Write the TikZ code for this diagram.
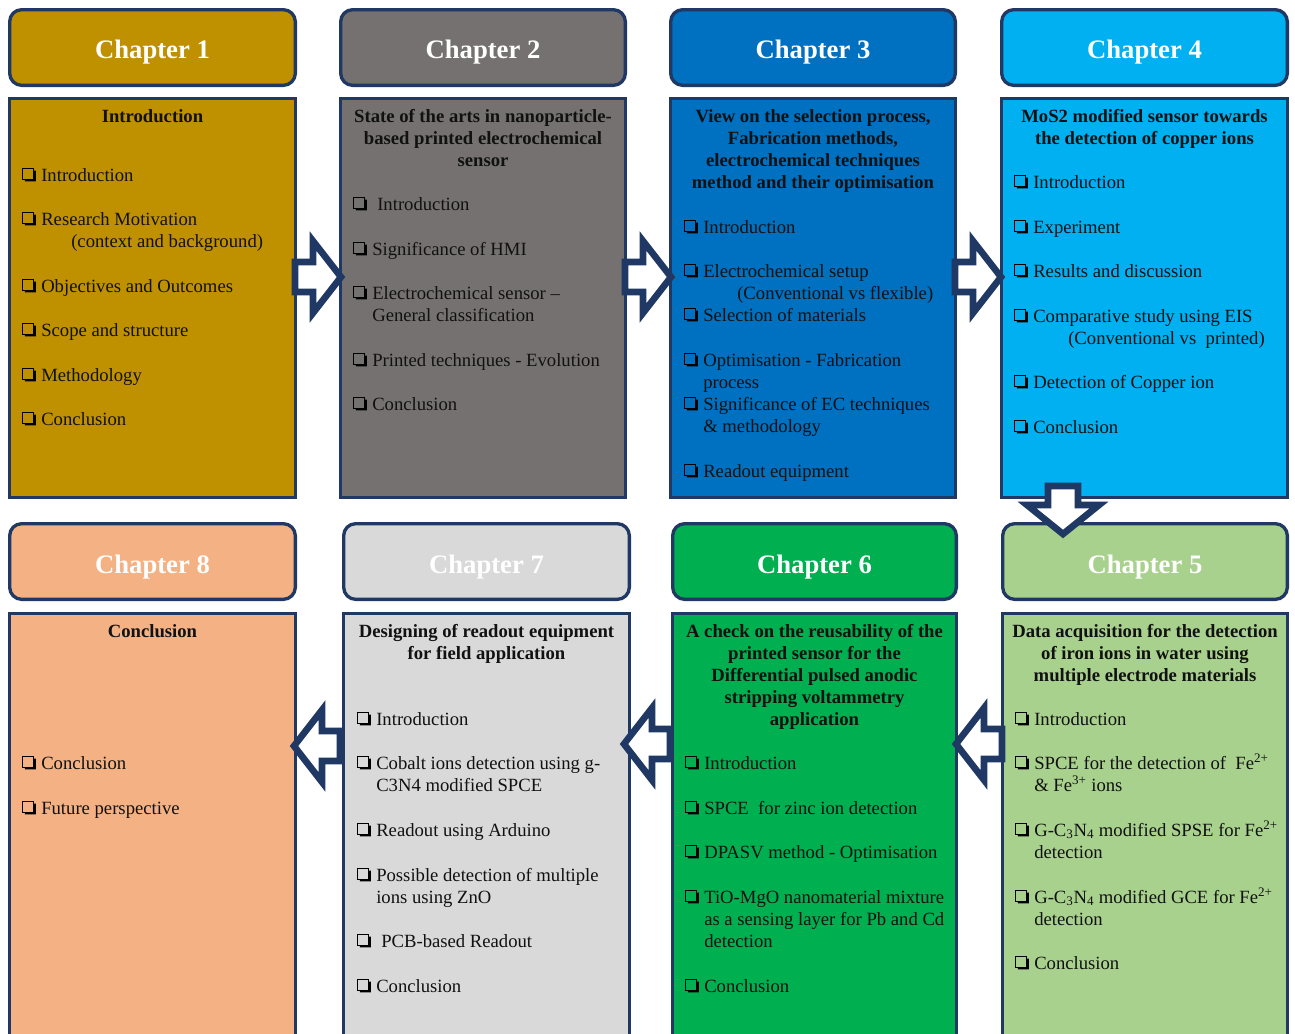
\documentclass[tikz,border=0pt]{standalone}
\usepackage{fontspec}
\setmainfont{Liberation Serif}
\definecolor{navy}{HTML}{1F3864}
\definecolor{cA}{HTML}{BF9000}
\definecolor{cB}{HTML}{767171}
\definecolor{cC}{HTML}{0070C0}
\definecolor{cD}{HTML}{00B0F0}
\definecolor{cE}{HTML}{A9D18E}
\definecolor{cF}{HTML}{00B050}
\definecolor{cG}{HTML}{D9D9D9}
\definecolor{cH}{HTML}{F4B183}
\definecolor{txt}{HTML}{111111}
\newcommand\chk{\makebox[14.25pt][l]{\tikz[x=1.15pt,y=1.15pt,baseline=0pt]{%
  \fill[black] (1.8,-0.3) -- (8.9,-0.3) -- (8.9,6.8) -- (7.4,6.8) -- (7.4,1.2) -- (1.8,1.2) -- cycle;
  \draw[black,line width=0.9pt] (0.45,1.2) rectangle (7.4,8.1);}}}
\newcommand\boxat[7]{%
  \node[#2, fill=#7, minimum width={(#5-#3)*0.75pt-2.5pt}, minimum height={(#6-#4)*0.75pt-2.5pt}] (#1) at ({(#3+#5)/2},{(#4+#6)/2}) {};}
\newcommand\itm[4]{\node[itm] (#1) at (#2,{#3+6}) {\chk #4};}
\newcommand\ml[1]{\begin{tabular}[t]{@{}l@{}}#1\end{tabular}}
\newcommand\hdg[4]{\node[hd] (#1) at (#2,{#3+6}) {\begin{tabular}[t]{@{}c@{}}#4\end{tabular}};}
\newcommand\rarr[1]{\draw[blockarr] (#1) ++(3,-15) -- ++(18,0) -- ++(0,-21) -- ++(28,36) -- ++(-28,36) -- ++(0,-21) -- ++(-18,0) -- cycle;}
\newcommand\larr[1]{\draw[blockarr] (#1) ++(-3,-15) -- ++(-18,0) -- ++(0,-21) -- ++(-28,36) -- ++(28,36) -- ++(0,-21) -- ++(18,0) -- cycle;}
\newcommand\darr[1]{\draw[blockarr] (#1) ++(-15,3) -- ++(0,19) -- ++(-21,0) -- ++(36,29) -- ++(36,-29) -- ++(-21,0) -- ++(0,-19) -- cycle;}
\tikzset{
  hdr/.style={draw=navy, line width=2.5pt, rounded corners=9pt, inner sep=0pt},
  cnt/.style={draw=navy, line width=2.5pt, inner sep=0pt},
  ttl/.style={anchor=base, text=white, font=\fontsize{20}{24}\selectfont\bfseries, inner sep=0pt},
  hd/.style={anchor=base, text=txt, font=\fontsize{14}{16.5}\selectfont\bfseries, inner sep=0pt},
  itm/.style={anchor=base west, text=txt, font=\fontsize{14}{16.5}\selectfont, inner sep=0pt},
  blockarr/.style={draw=navy, fill=white, line width=5pt, line join=miter},
}
\begin{document}
\begin{tikzpicture}[x=0.75pt, y=-0.75pt]
\useasboundingbox (0,0) rectangle (1295,1033);
\fill[white] (0,0) rectangle (1295,1033);
% headers top
\boxat{h1}{hdr}{8}{8}{297}{87}{cA}
\boxat{h2}{hdr}{339}{8}{627}{87}{cB}
\boxat{h3}{hdr}{669}{8}{957}{87}{cC}
\boxat{h4}{hdr}{1000}{8}{1289}{87}{cD}
% content top
\boxat{b1}{cnt}{8}{97}{297}{499}{cA}
\boxat{b2}{cnt}{339}{97}{627}{499}{cB}
\boxat{b3}{cnt}{669}{97}{957}{499}{cC}
\boxat{b4}{cnt}{1000}{97}{1289}{499}{cD}
% headers bottom
\boxat{h8}{hdr}{8}{522}{297}{601}{cH}
\boxat{h7}{hdr}{342}{522}{631}{601}{cG}
\boxat{h6}{hdr}{671}{522}{958}{601}{cF}
\boxat{h5}{hdr}{1001}{522}{1289}{601}{cE}
% content bottom
\boxat{b8}{cnt}{8}{612}{297}{1042}{cH}
\boxat{b7}{cnt}{342}{612}{631}{1042}{cG}
\boxat{b6}{cnt}{671}{612}{958}{1042}{cF}
\boxat{b5}{cnt}{1001}{612}{1289}{1042}{cE}
% titles
\node[ttl] (t1) at (152.5,58) {Chapter 1};
\node[ttl] (t2) at (483,58) {Chapter 2};
\node[ttl] (t3) at (813,58) {Chapter 3};
\node[ttl] (t4) at (1144.5,58) {Chapter 4};
\node[ttl] (t8) at (152.5,573) {Chapter 8};
\node[ttl] (t7) at (486.5,573) {Chapter 7};
\node[ttl] (t6) at (814.5,573) {Chapter 6};
\node[ttl] (t5) at (1145,573) {Chapter 5};
% chapter 1
\hdg{g1}{152.5}{116}{Introduction}
\itm{i11}{22}{175}{Introduction}
\itm{i12}{22}{219}{\ml{Research Motivation\\\hspace{22.5pt}(context and background)}}
\itm{i13}{22}{286}{Objectives and Outcomes}
\itm{i14}{22}{330}{Scope and structure}
\itm{i15}{22}{375}{Methodology}
\itm{i16}{22}{419}{Conclusion}
% chapter 2
\hdg{g2}{483}{116}{State of the arts in nanoparticle-\\based printed electrochemical\\sensor}
\itm{i21}{353}{204}{\hspace{3.75pt}Introduction}
\itm{i22}{353}{249}{Significance of HMI}
\itm{i23}{353}{293}{\ml{Electrochemical sensor –\\General classification}}
\itm{i24}{353}{360}{Printed techniques - Evolution}
\itm{i25}{353}{404}{Conclusion}
% chapter 3
\hdg{g3}{813}{116}{View on the selection process,\\Fabrication methods,\\electrochemical techniques\\method and their optimisation}
\itm{i31}{684}{227}{Introduction}
\itm{i32}{684}{271}{\ml{Electrochemical setup\\\hspace{25.5pt}(Conventional vs flexible)}}
\itm{i33}{684}{315}{Selection of materials}
\itm{i34}{684}{360}{\ml{Optimisation - Fabrication\\process}}
\itm{i35}{684}{404}{\ml{Significance of EC techniques\\\& methodology}}
\itm{i36}{684}{471}{Readout equipment}
% chapter 4
\hdg{g4}{1144.5}{116}{MoS2 modified sensor towards\\the detection of copper ions}
\itm{i41}{1014}{182}{Introduction}
\itm{i42}{1014}{227}{Experiment}
\itm{i43}{1014}{271}{Results and discussion}
\itm{i44}{1014}{316}{\ml{Comparative study using EIS\\\hspace{26.25pt}(Conventional vs\ \ printed)}}
\itm{i45}{1014}{382}{Detection of Copper ion}
\itm{i46}{1014}{427}{Conclusion}
% chapter 5
\hdg{g5}{1145}{631}{Data acquisition for the detection\\of iron ions in water using\\multiple electrode materials}
\itm{i51}{1015}{719}{Introduction}
\itm{i52}{1015}{763}{\ml{SPCE for the detection of\ \ Fe\textsuperscript{2+}\\\& Fe\textsuperscript{3+} ions}}
\itm{i53}{1015}{830}{\ml{G-C\textsubscript{3}N\textsubscript{4} modified SPSE for Fe\textsuperscript{2+}\\detection}}
\itm{i54}{1015}{897}{\ml{G-C\textsubscript{3}N\textsubscript{4} modified GCE for Fe\textsuperscript{2+}\\detection}}
\itm{i55}{1015}{963}{Conclusion}
% chapter 6
\hdg{g6}{814.5}{631}{A check on the reusability of the\\printed sensor for the\\Differential pulsed anodic\\stripping voltammetry\\application}
\itm{i61}{685}{763}{Introduction}
\itm{i62}{685}{808}{SPCE\ \ for zinc ion detection}
\itm{i63}{685}{852}{DPASV method - Optimisation}
\itm{i64}{685}{897}{\ml{TiO-MgO nanomaterial mixture\\as a sensing layer for Pb and Cd\\detection}}
\itm{i65}{685}{986}{Conclusion}
% chapter 7
\hdg{g7}{486.5}{631}{Designing of readout equipment\\for field application}
\itm{i71}{357}{719}{Introduction}
\itm{i72}{357}{763}{\ml{Cobalt ions detection using g-\\C3N4 modified SPCE}}
\itm{i73}{357}{830}{Readout using Arduino}
\itm{i74}{357}{875}{\ml{Possible detection of multiple\\ions using ZnO}}
\itm{i75}{357}{941}{\hspace{3.75pt}PCB-based Readout}
\itm{i76}{357}{986}{Conclusion}
% chapter 8
\hdg{g8}{152.5}{631}{Conclusion}
\itm{i81}{22}{763}{Conclusion}
\itm{i82}{22}{808}{Future perspective}
% arrows
\coordinate (a12) at (292,277);
\coordinate (a23) at (622,277);
\coordinate (a34) at (952,277);
\coordinate (a45) at (1063,483);
\coordinate (a56) at (1005,744);
\coordinate (a67) at (673,744);
\coordinate (a78) at (343,746);
\rarr{a12}
\rarr{a23}
\rarr{a34}
\darr{a45}
\larr{a56}
\larr{a67}
\larr{a78}
\end{tikzpicture}
\end{document}
